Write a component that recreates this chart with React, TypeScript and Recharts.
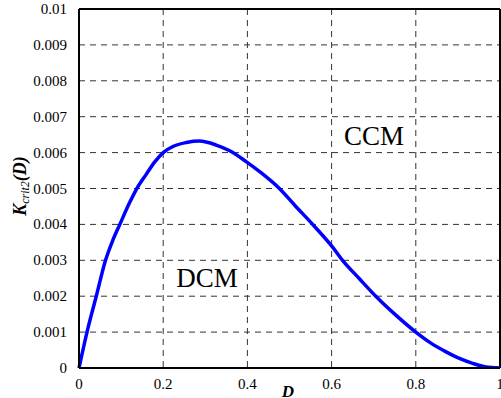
import React from 'react';
import { LineChart, Line, XAxis, YAxis, CartesianGrid, ReferenceLine } from 'recharts';

const D_VALUES = [0, 0.02, 0.041, 0.063, 0.08, 0.097, 0.12, 0.136, 0.16, 0.18, 0.2, 0.223, 0.255, 0.286, 0.326, 0.358, 0.397, 0.429, 0.476, 0.515, 0.555, 0.6, 0.626, 0.665, 0.705, 0.75, 0.8, 0.835, 0.872, 0.905, 0.935, 0.967, 1.0];
const K_VALUES = [0, 0.00105, 0.002, 0.003, 0.00355, 0.004, 0.0046, 0.00497, 0.0054, 0.00574, 0.006, 0.00617, 0.00628, 0.00632, 0.00621, 0.00605, 0.00575, 0.00547, 0.005, 0.0045, 0.004, 0.0034, 0.003, 0.0025, 0.002, 0.0015, 0.001, 0.0007, 0.00045, 0.00026, 0.00013, 0.00003, 0];

const X_TICKS = [0, 0.2, 0.4, 0.6, 0.8, 1];
const X_TICK_LABELS = ['0', '0.2', '0.4', '0.6', '0.8', '1'];
const Y_TICKS = [0, 0.001, 0.002, 0.003, 0.004, 0.005, 0.006, 0.007, 0.008, 0.009, 0.01];
const Y_TICK_LABELS = ['0', '0.001', '0.002', '0.003', '0.004', '0.005', '0.006', '0.007', '0.008', '0.009', '0.01'];

const data = D_VALUES.map((d, i) => ({ d, k: K_VALUES[i] }));

const FONT = 'Liberation Serif';
const serif = { fontFamily: FONT };

const renderXTick = (props: any) => {
  const { x, y, payload } = props;
  const i = X_TICKS.indexOf(payload.value);
  return (
    <text key={`xt-${payload.value}`} x={x} y={y + 12} textAnchor="middle" fontFamily={FONT} style={{ ...serif, fontSize: 15 }} fill="#000">
      {i >= 0 ? X_TICK_LABELS[i] : String(payload.value)}
    </text>
  );
};

const renderYTick = (props: any) => {
  const { x, y, payload } = props;
  const i = Y_TICKS.indexOf(payload.value);
  return (
    <text key={`yt-${payload.value}`} x={x} y={y + 5} textAnchor="end" fontFamily={FONT} style={{ ...serif, fontSize: 15 }} fill="#000">
      {i >= 0 ? Y_TICK_LABELS[i] : String(payload.value)}
    </text>
  );
};

const YLabel = () => (
  <text transform="translate(26, 186) rotate(-90)" textAnchor="middle" style={{ ...serif, fontStyle: 'italic' }} fill="#000">
    <tspan style={{ fontSize: 18, fontWeight: 'bold' }}>K</tspan>
    <tspan style={{ fontSize: 12 }} dy={3}>crit2</tspan>
    <tspan style={{ fontSize: 18, fontWeight: 'bold' }} dy={-3}>(D)</tspan>
  </text>
);

export default function App() {
  return (
    <div style={{ position: 'absolute', left: 0, top: 0, background: '#fff', fontFamily: FONT }}>
      <LineChart width={501} height={398} data={data} margin={{ top: 9, right: 1, bottom: 0, left: 0 }} style={{ fontFamily: FONT }}>
        <CartesianGrid stroke="#333" strokeDasharray="6 5" strokeWidth={1} />
        <XAxis
          dataKey="d"
          type="number"
          domain={[0, 1]}
          ticks={X_TICKS}
          height={30}
          tickLine={false}
          axisLine={{ stroke: '#000', strokeWidth: 2 }}
          tick={renderXTick}
          tickMargin={3}
          interval={0}
        />
        <YAxis
          type="number"
          domain={[0, 0.01]}
          ticks={Y_TICKS}
          width={79}
          tickLine={false}
          axisLine={{ stroke: '#000', strokeWidth: 2 }}
          tick={renderYTick}
          tickMargin={6}
          interval={0}
          allowDataOverflow
        />
        <ReferenceLine y={0.01} stroke="#000" strokeWidth={2} />
        <ReferenceLine x={1} stroke="#000" strokeWidth={2} />
        <Line
          type="monotone"
          dataKey="k"
          stroke="#0000ff"
          strokeWidth={3.5}
          dot={false}
          isAnimationActive={false}
        />
        <YLabel />
        <text x={288} y={397} textAnchor="middle" style={{ ...serif, fontWeight: 'bold', fontStyle: 'italic', fontSize: 17 }} fill="#000">D</text>
        <text x={374} y={145} textAnchor="middle" style={{ ...serif, fontSize: 27 }} fill="#000">CCM</text>
        <text x={207} y={287} textAnchor="middle" style={{ ...serif, fontSize: 27 }} fill="#000">DCM</text>
      </LineChart>
    </div>
  );
}
